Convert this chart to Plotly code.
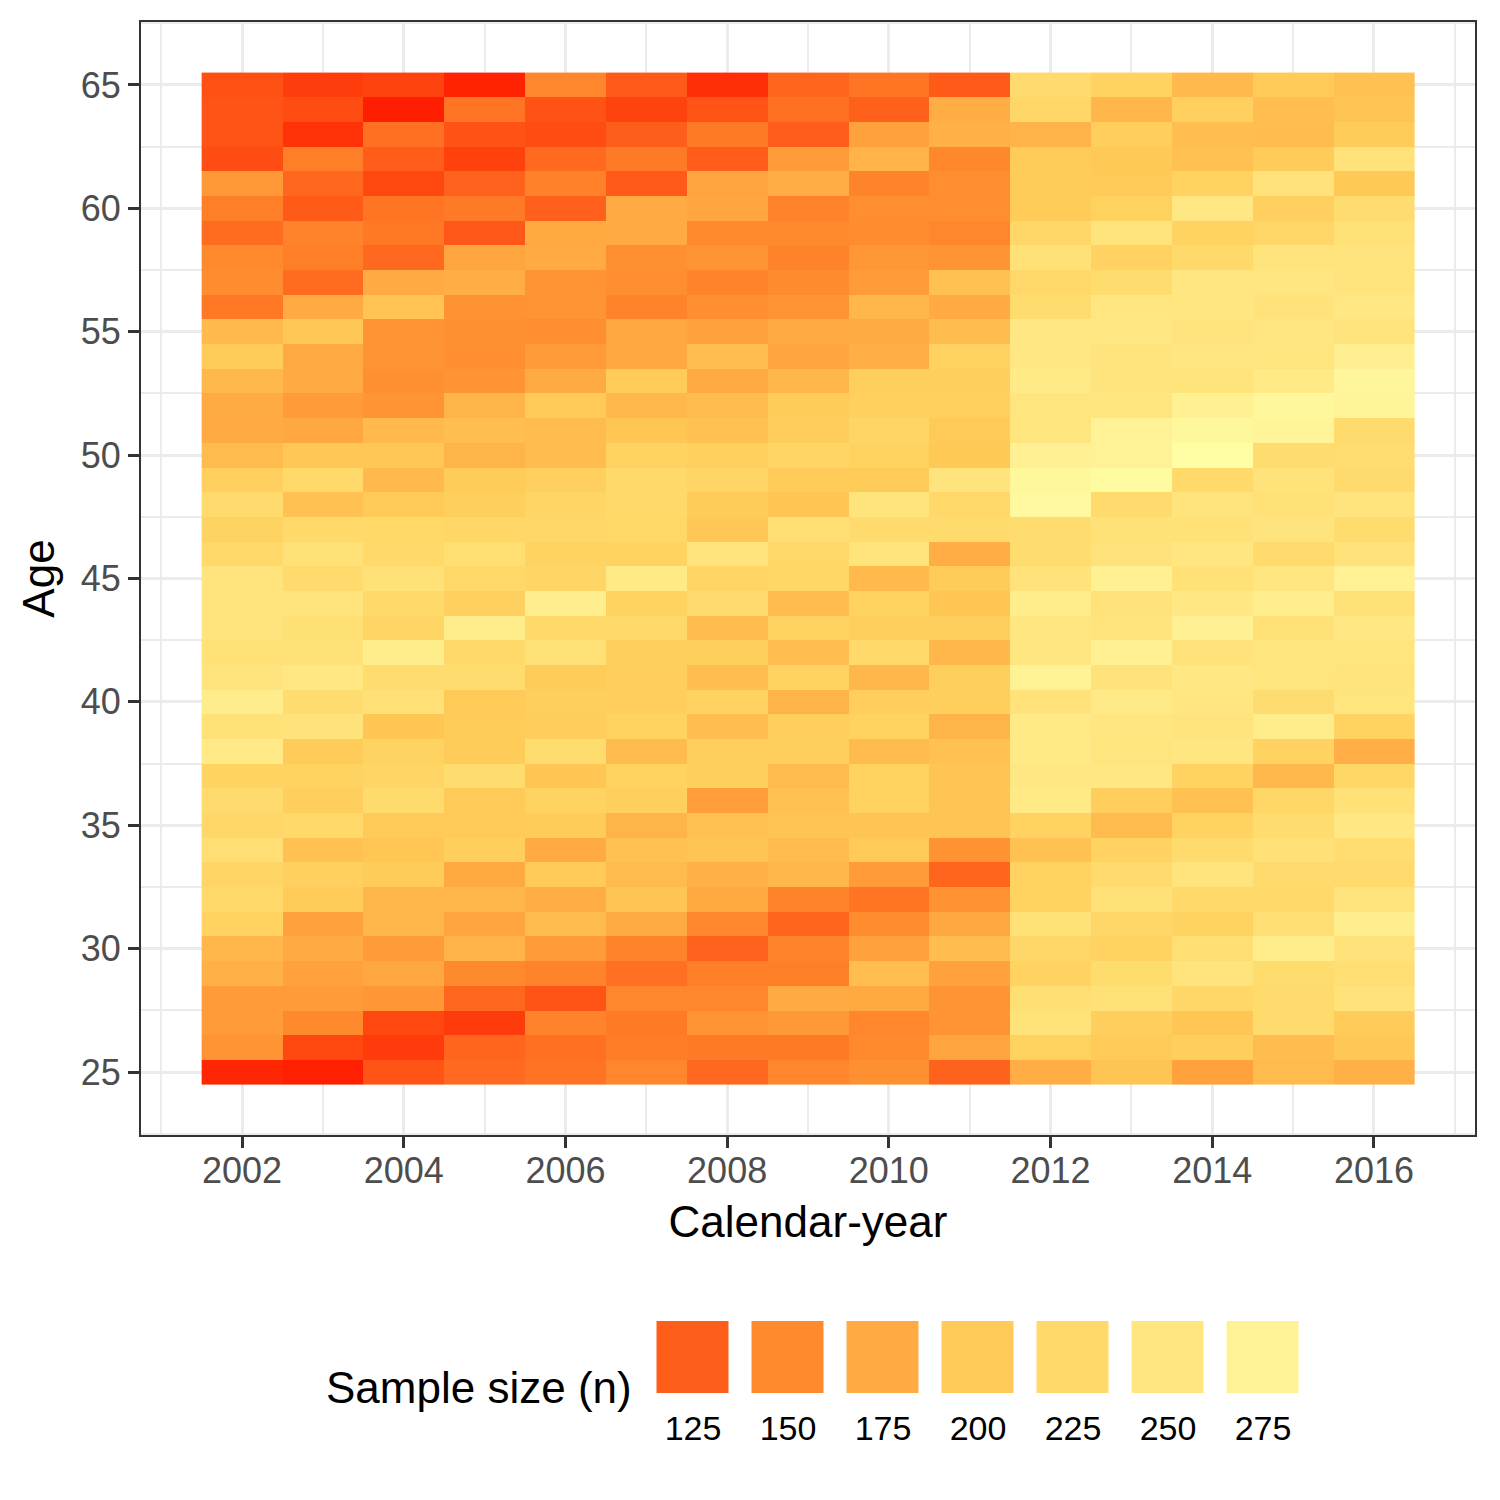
import plotly.graph_objects as go

# sample size per calendar year, ages 25..65
years = list(range(2002, 2017))
ages = list(range(25, 66))

n_2002 = [94, 158, 163, 164, 180, 184, 214, 226, 218, 235, 222, 228, 215, 258, 240, 264, 247, 240, 247, 247, 247,
          226, 215, 228, 210, 189, 175, 176, 186, 202, 187, 140, 152, 150, 133, 143, 162, 112, 118, 118, 115]
n_2003 = [91, 110, 150, 164, 168, 175, 168, 202, 210, 193, 225, 208, 215, 203, 243, 231, 254, 240, 238, 246, 228,
          240, 226, 193, 225, 198, 173, 164, 175, 175, 198, 175, 133, 143, 146, 122, 130, 143, 100, 112, 105]
n_2004 = [118, 104, 110, 160, 173, 164, 184, 184, 204, 197, 200, 227, 219, 215, 197, 240, 230, 262, 220, 225, 240,
          225, 223, 200, 187, 198, 187, 158, 155, 158, 158, 195, 175, 131, 140, 138, 110, 124, 135, 90, 108]
n_2005 = [132, 129, 104, 130, 150, 182, 170, 184, 174, 208, 200, 200, 230, 202, 202, 200, 230, 225, 262, 210, 224,
          234, 221, 208, 202, 183, 191, 183, 158, 154, 155, 156, 178, 171, 120, 141, 127, 107, 116, 138, 92]
n_2006 = [137, 135, 146, 118, 146, 164, 189, 178, 200, 175, 203, 215, 197, 230, 205, 208, 204, 240, 225, 266, 220,
          215, 222, 218, 210, 190, 189, 200, 176, 164, 153, 158, 158, 175, 174, 126, 145, 132, 112, 116, 148]
n_2007 = [148, 142, 141, 148, 135, 146, 176, 196, 188, 194, 183, 208, 215, 188, 214, 207, 207, 208, 226, 215, 258,
          215, 223, 225, 225, 215, 197, 186, 204, 173, 173, 146, 153, 155, 175, 175, 122, 141, 125, 108, 122]
n_2008 = [131, 141, 158, 148, 143, 127, 148, 174, 180, 196, 194, 166, 208, 208, 191, 214, 191, 208, 190, 228, 220,
          247, 198, 204, 220, 210, 194, 190, 175, 191, 168, 154, 146, 158, 150, 172, 171, 124, 141, 118, 98]
n_2009 = [148, 141, 161, 175, 143, 146, 129, 146, 184, 188, 196, 193, 188, 208, 207, 183, 215, 191, 215, 190, 221,
          224, 236, 197, 204, 218, 205, 203, 184, 171, 175, 158, 151, 146, 150, 146, 177, 164, 124, 135, 129]
n_2010 = [155, 150, 148, 174, 191, 168, 152, 138, 164, 200, 196, 214, 214, 188, 214, 207, 184, 225, 208, 215, 187,
          244, 227, 244, 201, 211, 218, 210, 208, 179, 176, 184, 164, 160, 152, 153, 146, 182, 168, 126, 138]
n_2011 = [127, 171, 158, 158, 168, 190, 173, 156, 129, 156, 196, 196, 196, 194, 183, 208, 208, 184, 208, 197, 204,
          177, 227, 224, 247, 199, 200, 210, 208, 212, 190, 175, 193, 158, 148, 153, 153, 149, 180, 177, 122]
n_2012 = [177, 211, 243, 235, 214, 222, 240, 214, 214, 194, 214, 258, 254, 258, 258, 243, 274, 250, 250, 262, 242,
          230, 230, 285, 283, 272, 248, 248, 258, 254, 254, 230, 224, 240, 222, 203, 203, 203, 182, 222, 228]
n_2013 = [196, 200, 206, 240, 230, 214, 222, 240, 228, 214, 188, 206, 254, 248, 250, 258, 242, 272, 245, 243, 270,
          243, 240, 228, 290, 275, 275, 248, 245, 245, 254, 250, 230, 214, 244, 211, 200, 199, 207, 184, 214]
n_2014 = [168, 207, 197, 222, 247, 235, 215, 225, 245, 228, 214, 193, 214, 250, 245, 250, 254, 242, 272, 254, 240,
          250, 240, 247, 225, 295, 283, 270, 244, 250, 245, 250, 250, 225, 214, 254, 214, 194, 191, 210, 187]
n_2015 = [188, 190, 227, 227, 230, 262, 236, 225, 228, 240, 231, 221, 186, 214, 262, 231, 248, 248, 240, 266, 250,
          228, 247, 240, 243, 230, 278, 283, 258, 248, 250, 243, 250, 247, 222, 210, 242, 202, 190, 191, 200]
n_2016 = [180, 198, 202, 243, 235, 243, 266, 245, 228, 232, 254, 240, 221, 179, 214, 248, 247, 248, 254, 240, 273,
          243, 230, 247, 227, 233, 228, 278, 280, 268, 245, 254, 245, 247, 240, 231, 199, 242, 202, 196, 193]

legend_values = [125, 150, 175, 200, 225, 250, 275]

by_year = [n_2002, n_2003, n_2004, n_2005, n_2006, n_2007, n_2008, n_2009,
           n_2010, n_2011, n_2012, n_2013, n_2014, n_2015, n_2016]
z = [[col[i] for col in by_year] for i in range(len(ages))]

# colour ramp (red = small n, pale yellow = large n)
zmin, zmax = 88, 296
stops = [(88, "rgb(255,26,0)"), (100, "rgb(255,50,8)"), (112, "rgb(255,76,18)"),
         (125, "rgb(255,94,26)"), (150, "rgb(255,138,46)"), (175, "rgb(255,170,66)"),
         (200, "rgb(255,202,87)"), (225, "rgb(255,217,106)"), (250, "rgb(255,230,128)"),
         (275, "rgb(255,242,150)"), (296, "rgb(255,255,166)")]
colorscale = [[(v - zmin) / (zmax - zmin), c] for v, c in stops]

W = H = 1500
OFF = 8  # page offset of the plot in the screenshot
def px_x(a, b):
    return [(a - OFF) / W, (b - OFF) / W]
def px_y(top, bottom):
    return [1 - (bottom - OFF) / H, 1 - (top - OFF) / H]

fig = go.Figure()
fig.add_trace(go.Heatmap(x=years, y=ages, z=z, coloraxis="coloraxis",
                         hovertemplate="%{x}, age %{y}: n=%{z}<extra></extra>"))
fig.add_trace(go.Heatmap(x=[str(v) for v in legend_values], y=[0], z=[legend_values],
                         coloraxis="coloraxis", xgap=23, xaxis="x2", yaxis="y2",
                         hoverinfo="skip"))

grid_major = dict(showgrid=True, gridcolor="#EBEBEB", gridwidth=2.7)
axis_line = dict(showline=True, linecolor="#333333", linewidth=2, mirror=True,
                 ticks="outside", ticklen=11, tickwidth=3, tickcolor="#333333",
                 zeroline=False, tickfont=dict(size=36, color="#4D4D4D"))

fig.update_layout(
    width=W, height=H,
    margin=dict(l=0, r=0, t=0, b=0),
    paper_bgcolor="white", plot_bgcolor="white",
    font=dict(family="Liberation Sans, Arial, Helvetica, sans-serif", color="black"),
    showlegend=False,
    coloraxis=dict(colorscale=colorscale, cmin=zmin, cmax=zmax, showscale=False),
    xaxis=dict(domain=px_x(141, 1475), range=[2000.75, 2017.25], tick0=2002, dtick=2,
               ticklabelstandoff=-8,
               title=dict(text="Calendar-year", font=dict(size=44), standoff=16),
               minor=dict(tick0=2001, dtick=1, showgrid=True, gridcolor="#EBEBEB", gridwidth=1.5),
               **grid_major, **axis_line),
    yaxis=dict(domain=px_y(22, 1135), range=[22.45, 67.55], tick0=25, dtick=5,
               title=dict(text="Age", font=dict(size=44), standoff=12),
               minor=dict(tick0=22.5, dtick=2.5, showgrid=True, gridcolor="#EBEBEB", gridwidth=1.5),
               **grid_major, **axis_line),
    xaxis2=dict(domain=px_x(645.5, 1310.5), anchor="y2", type="category", range=[-0.5, 6.5],
                showgrid=False, zeroline=False, showline=False, ticks="", ticklabelstandoff=12,
                tickfont=dict(size=34, color="black")),
    yaxis2=dict(domain=px_y(1321, 1393), anchor="x2", range=[-0.5, 0.5],
                showgrid=False, zeroline=False, showline=False, showticklabels=False),
    annotations=[dict(text="Sample size (n)", x=(634 - OFF) / W, y=1 - (1387 - OFF) / H,
                      xref="paper", yref="paper", xanchor="right", yanchor="middle",
                      showarrow=False, font=dict(size=44))],
)

fig.write_html("out.html")
